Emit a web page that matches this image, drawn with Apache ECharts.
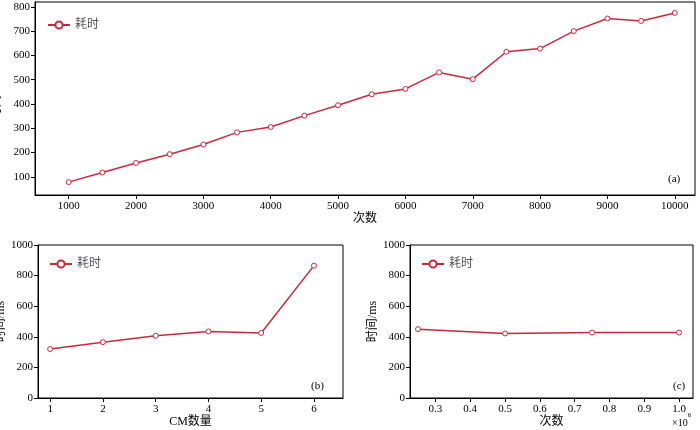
<!DOCTYPE html><html><head><meta charset="utf-8">
<script src="https://cdn.jsdelivr.net/npm/echarts@6/dist/echarts.min.js"></script>
<style>html,body{margin:0;padding:0;background:#fff}#c{width:700px;height:430px}</style></head>
<body><div id="c"></div><script>
const topX=[1000,1500,2000,2500,3000,3500,4000,4500,5000,5500,6000,6500,7000,7500,8000,8500,9000,9500,10000];
const topY=[78,118,157,193,233,283,305,352,395,440,462,530,502,615,628,700,752,742,775];
const cmX=[1,2,3,4,5,6];
const cmY=[320,365,407,435,425,865];
const cntX=[0.25,0.5,0.75,1.0];
const cntY=[450,422,428,428];
const topTicksY=[100,200,300,400,500,600,700,800];
const topTicksX=[1000,2000,3000,4000,5000,6000,7000,8000,9000,10000];
const font='"Liberation Serif","Noto Sans CJK SC",serif';
const col='#c8283c';
const lab={fontFamily:font,fontSize:11,color:'#000',formatter:v=>String(v)};
function axBase(){return{axisLine:{onZero:false,lineStyle:{color:'#000'}},splitLine:{show:false},nameTextStyle:{fontFamily:font,fontSize:12,color:'#000'}};}
const grids=[{left:35,right:5,top:2,bottom:235},{left:38,right:357,top:245,bottom:32},{left:410,right:7,top:245,bottom:32}];
grids.forEach(g=>{g.show=true;g.borderColor='#000';g.borderWidth=1;g.backgroundColor='transparent';g.outerBoundsMode='none';g.containLabel=false;});
function X(i,min,max,custom,name,fmt){return Object.assign(axBase(),{gridIndex:i,type:'value',min,max,name,nameLocation:'middle',nameGap:17,axisLabel:Object.assign({},lab,{margin:6,customValues:custom},fmt?{formatter:fmt}:{}),axisTick:{length:4,customValues:custom,lineStyle:{color:'#000'}}});}
function Y(i,min,max,custom){return Object.assign(axBase(),{gridIndex:i,type:'value',min,max,name:'时间/ms',nameLocation:'middle',nameGap:i==0?24:27,axisLabel:Object.assign({},lab,{margin:5,customValues:custom}),axisTick:{length:4,customValues:custom,lineStyle:{color:'#000'}}});}
function S(i,xs,ys){return{type:'line',xAxisIndex:i,yAxisIndex:i,data:xs.map((x,k)=>[x,ys[k]]),name:'耗时',symbol:'circle',symbolSize:5,itemStyle:{color:'#fff',borderColor:col,borderWidth:1},lineStyle:{color:col,width:1.5},z:3};}
const opt={animation:false,grid:grids,
xAxis:[X(0,500,10300,topTicksX,'次数'),X(1,0.77,6.55,cmX,'CM数量'),X(2,0.227,1.04,[0.3,0.4,0.5,0.6,0.7,0.8,0.9,1.0],'次数',v=>v.toFixed(1))],
yAxis:[Y(0,25,820,topTicksY),Y(1,0,1000,[0,200,400,600,800,1000]),Y(2,0,1000,[0,200,400,600,800,1000])],
series:[S(0,topX,topY),S(1,cmX,cmY),S(2,cntX,cntY)],
legend:[0,1,2].map((i,k)=>({data:['耗时'],left:[42,44,416][k],top:[14,253,253][k],itemWidth:22,itemHeight:9,textStyle:{fontFamily:font,fontSize:12},selectedMode:false})),
graphic:[
{type:'text',left:668,top:174,style:{text:'(a)',font:'11px '+font,fill:'#000'}},
{type:'text',left:311,top:381,style:{text:'(b)',font:'11px '+font,fill:'#000'}},
{type:'text',left:673,top:381,style:{text:'(c)',font:'11px '+font,fill:'#000'}},
{type:'text',left:672,top:412,style:{rich:{a:{font:'10px '+font,fill:'#000'},b:{font:'7px '+font,fill:'#000',verticalAlign:'top',padding:[-6,0,0,0]}},text:'{a|×10}{b|6}'}}
]};
echarts.init(document.getElementById('c')).setOption(opt);
</script></body></html>
